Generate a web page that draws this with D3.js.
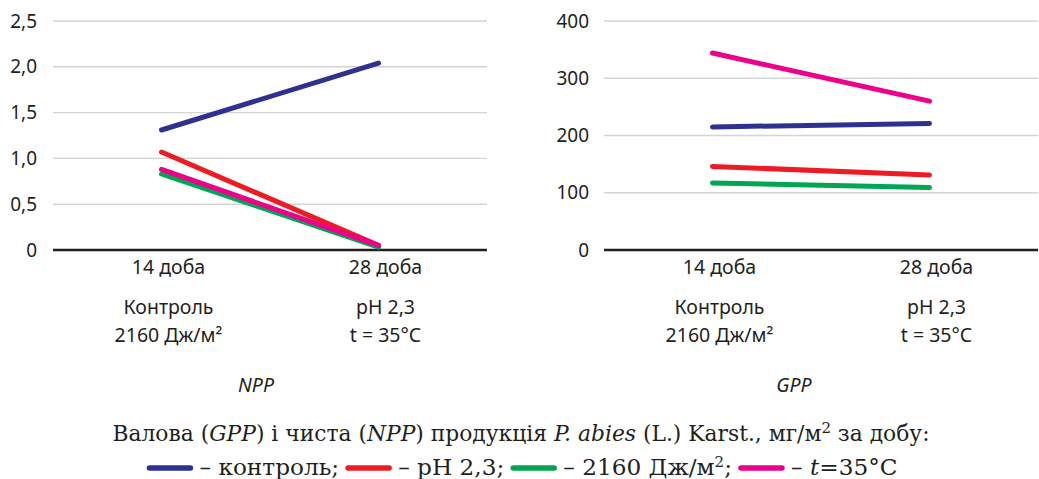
<!DOCTYPE html>
<html>
<head>
<meta charset="utf-8">
<script src="https://cdn.jsdelivr.net/npm/d3@7"></script>
<style>
  html, body { margin: 0; padding: 0; background: #fff; }
  svg { display: block; }
</style>
</head>
<body>
<svg id="chart" width="1039" height="479"></svg>
<script>
// ---- Data ----
const categories = ["14 доба", "28 доба"];
const seriesNames = ["контроль", "pH 2,3", "2160 Дж/м²", "t=35°C"];
const seriesColors = ["#2e3192", "#ed1c24", "#00a651", "#ec008c"];

// NPP values (left panel): [14 доба, 28 доба]
const nppControl = [1.31, 2.04];
const nppPH = [1.07, 0.05];
const nppLight = [0.83, 0.03];
const nppTemp = [0.88, 0.05];

// GPP values (right panel)
const gppControl = [215, 221];
const gppPH = [146, 131];
const gppLight = [117, 109];
const gppTemp = [344, 260];

const nppTicks = [0, 0.5, 1.0, 1.5, 2.0, 2.5];
const gppTicks = [0, 100, 200, 300, 400];

const treatmentRow1 = ["Контроль", "pH 2,3"];
const treatmentRow2 = ["2160 Дж/м²", "t = 35°C"];

// ---- Drawing ----
const svg = d3.select("#chart");
const sansFont = "'Noto Sans', 'Open Sans', sans-serif";
const serifFont = "'DejaVu Serif', 'Liberation Serif', serif";
const textColor = "#231f20";
const capSize = 21.8;
const legSize = 23.2;

const fmtNpp = v => v === 0 ? "0" : d3.format(".1f")(v).replace(".", ",");
const fmtGpp = v => String(v);

function panel(cfg) {
  const g = svg.append("g");
  const x = d3.scalePoint().domain(categories).range([cfg.x0, cfg.x1]).padding(0.5);
  const y = d3.scaleLinear().domain(cfg.domain).range([250, 21]);

  // gridlines
  g.selectAll("line.grid").data(cfg.ticks.filter(t => t !== 0)).join("line")
    .attr("x1", cfg.x0).attr("x2", cfg.x1)
    .attr("y1", d => y(d)).attr("y2", d => y(d))
    .attr("stroke", "#d4d4d4").attr("stroke-width", 1.4);

  // y-axis labels
  const yAxis = d3.axisLeft(y).tickValues(cfg.ticks).tickFormat(cfg.fmt).tickSize(0).tickPadding(0);
  const ya = g.append("g").attr("transform", `translate(${cfg.labelX},0)`).call(yAxis);
  ya.select(".domain").remove();
  ya.selectAll("text").attr("font-family", sansFont).attr("font-size", 19).attr("fill", textColor);

  // baseline
  g.append("line").attr("x1", cfg.x0).attr("x2", cfg.x1)
    .attr("y1", y(0)).attr("y2", y(0))
    .attr("stroke", textColor).attr("stroke-width", 2.6);

  // series lines
  const line = d3.line().x((d, i) => x(categories[i])).y(d => y(d));
  g.selectAll("path.series").data(cfg.series).join("path")
    .attr("d", d => line(d))
    .attr("fill", "none")
    .attr("stroke", (d, i) => seriesColors[i])
    .attr("stroke-width", 5)
    .attr("stroke-linecap", "round");

  // category labels (baselines)
  const rows = [[categories, 274], [treatmentRow1, 314], [treatmentRow2, 342]];
  rows.forEach(([labels, yy]) => {
    g.selectAll(null).data(labels).join("text")
      .attr("x", (d, i) => x(categories[i]) + 7)
      .attr("y", yy)
      .attr("text-anchor", "middle")
      .attr("font-family", sansFont).attr("font-size", 19.5).attr("fill", textColor)
      .text(d => d);
  });

  // panel title
  g.append("text")
    .attr("x", cfg.titleX).attr("y", 392)
    .attr("text-anchor", "middle")
    .attr("font-family", sansFont).attr("font-size", 19.5).attr("font-style", "italic")
    .attr("fill", textColor)
    .text(cfg.title);
}

panel({ x0: 53, x1: 487, labelX: 37, domain: [0, 2.5], ticks: nppTicks, fmt: fmtNpp,
  series: [nppControl, nppPH, nppLight, nppTemp], title: "NPP", titleX: 256 });
panel({ x0: 604, x1: 1038, labelX: 589, domain: [0, 400], ticks: gppTicks, fmt: fmtGpp,
  series: [gppControl, gppPH, gppLight, gppTemp], title: "GPP", titleX: 794 });

// caption
const capY = 441;
const cap = svg.append("text")
  .attr("x", 521).attr("y", capY)
  .attr("text-anchor", "middle")
  .attr("font-family", serifFont).attr("font-size", capSize).attr("fill", textColor);
const capParts = [
  ["Валова (", false], ["GPP", true], [") і чиста (", false], ["NPP", true],
  [") продукція ", false], ["P. abies", true], [" (L.) Karst., мг/м", false]
];
capParts.forEach(([t, it]) => cap.append("tspan").attr("font-style", it ? "italic" : "normal").text(t));
cap.append("tspan").attr("dy", -8).attr("font-size", 15).text("2");
cap.append("tspan").attr("dy", 8).text(" за добу:");

// legend
const legend = svg.append("g");
const legY = 468;
const legBase = 475;
let cx = 0;
const legendLabels = [
  [["– контроль;", false, 0]],
  [["– pH 2,3;", false, 0]],
  [["– 2160 Дж/м", false, 0], ["2", false, 1], [";", false, -1]],
  [["– ", false, 0], ["t", true, 0], ["=35°C", false, 0]]
];
legendLabels.forEach((parts, i) => {
  legend.append("line")
    .attr("x1", cx + 3).attr("x2", cx + 44)
    .attr("y1", legY).attr("y2", legY)
    .attr("stroke", seriesColors[i]).attr("stroke-width", 5.5).attr("stroke-linecap", "round");
  cx += 47 + 6;
  const t = legend.append("text").attr("x", cx).attr("y", legBase)
    .attr("font-family", serifFont).attr("font-size", legSize).attr("fill", textColor);
  parts.forEach(([s, it, sup]) => t.append("tspan")
    .attr("font-style", it ? "italic" : "normal")
    .attr("dy", sup === 1 ? -8 : sup === -1 ? 8 : 0)
    .attr("font-size", sup === 1 ? 15 : legSize)
    .text(s));
  cx += t.node().getComputedTextLength() + 6;
});
const legW = cx - 6;
legend.attr("transform", `translate(${522 - legW / 2},0)`);
</script>
</body>
</html>
